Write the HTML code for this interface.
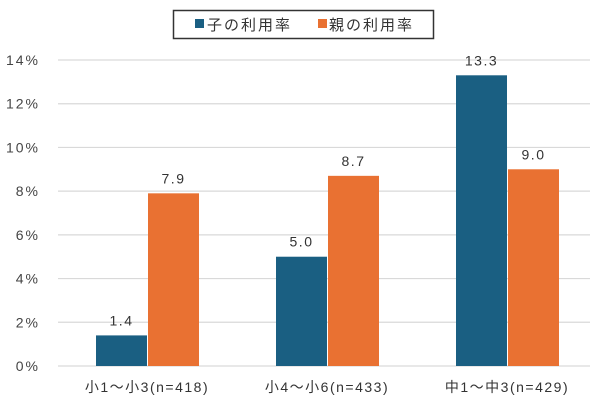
<!DOCTYPE html>
<html><head><meta charset="utf-8"><style>
body{margin:0;background:#fff}
svg{display:block;font-family:"Liberation Sans","Noto Sans CJK JP",sans-serif}
</style></head><body>
<svg id="c" width="600" height="415">
<g>
<rect x="173.5" y="10.5" width="260" height="28" fill="#fff" stroke="#333" stroke-width="1.5"/>
<rect x="195" y="19" width="9" height="9" fill="#1a5f82"/>
<text x="207" y="30" font-size="15" fill="#333" letter-spacing="2">子の利用率</text>
<rect x="318" y="19" width="9" height="9" fill="#e97132"/>
<text x="329" y="30" font-size="15" fill="#333" letter-spacing="2">親の利用率</text>
</g>
<g id="grid"></g><g id="bars"></g><g id="labels"></g>
</svg>
<script>
const categories=["小1〜小3(n=418)","小4〜小6(n=433)","中1〜中3(n=429)"];
const childValues=[1.4,5.0,13.3];
const parentValues=[7.9,8.7,9.0];
const yTicks=[0,2,4,6,8,10,12,14];
const NS="http://www.w3.org/2000/svg";
const y0=366,pxPer=(366-60)/14;
const y=v=>y0-v*pxPer;
const gx=i=>147+i*180;
function mk(tag,attrs,parent,text){const e=document.createElementNS(NS,tag);for(const k in attrs)e.setAttribute(k,attrs[k]);if(text!==undefined)e.textContent=text;document.getElementById(parent).appendChild(e);return e;}
yTicks.forEach(t=>{
 const l=mk("line",{x1:58,x2:590,y1:y(t),y2:y(t),stroke:"#d9d9d9","stroke-width":1.2},"grid");
 
 
 const tx=mk("text",{x:40,y:y(t)+5,"text-anchor":"end","font-size":14,fill:"#444","letter-spacing":"2"},"grid",t+"%");
 
 
});
categories.forEach((c,i)=>{
 const cx=gx(i);
 [[childValues[i],"#1a5f82",cx-51,"child"],[parentValues[i],"#e97132",cx+1,"parent"]].forEach(([v,col,x,s])=>{
  const r=mk("rect",{x:x,y:y(v),width:51,height:y0-y(v),fill:col},"bars");
  
  
  const t=mk("text",{x:x+25.5,y:y(v)-10,"text-anchor":"middle","font-size":14,fill:"#333","letter-spacing":"1.5"},"labels",v.toFixed(1));
  
  
 });
 const ct=mk("text",{x:cx,y:392,"text-anchor":"middle","font-size":14,fill:"#333","letter-spacing":"1.5"},"labels",c);
 
 
});
</script>
</body></html>
